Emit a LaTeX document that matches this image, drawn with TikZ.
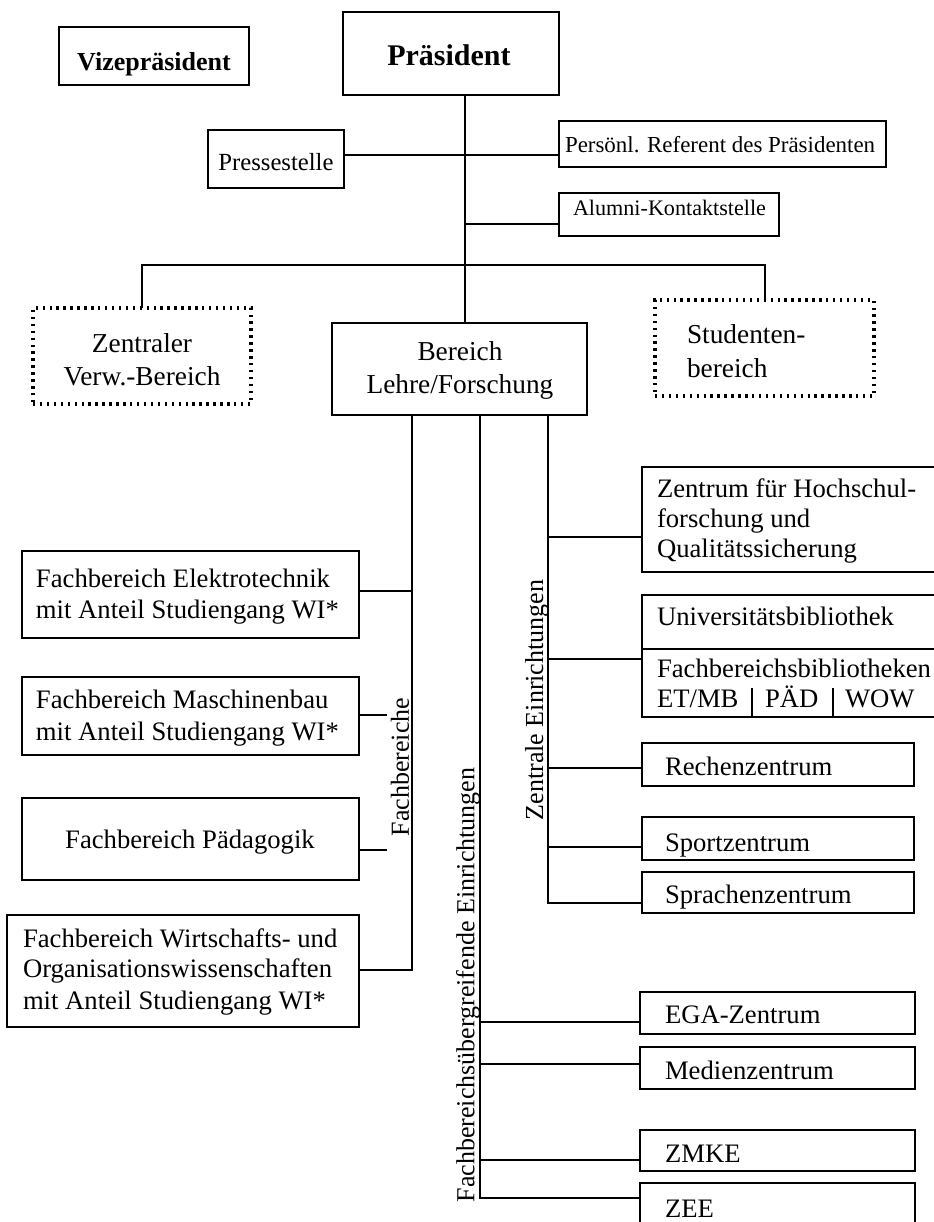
\documentclass[tikz,border=0pt]{standalone}
\usepackage{fontspec}
\setmainfont{Liberation Serif}
\usetikzlibrary{fit}
\begin{document}
\begin{tikzpicture}[x=0.75pt,y=-0.75pt,
  every node/.style={inner sep=0pt, outer sep=0pt},
  box/.style={draw, line width=1.2pt, inner sep=0pt, outer sep=0pt},
  dbox/.style={draw, line width=2.3pt, dash pattern=on 1.8pt off 3.4pt, inner sep=0pt, outer sep=0pt},
  ln/.style={line width=1.2pt},
  tx/.style={font=\fontsize{20}{24}\selectfont, anchor=base west},
  txc/.style={font=\fontsize{20.5}{24}\selectfont, anchor=base},
  vl/.style={font=\fontsize{19.5}{24}\selectfont, rotate=90, anchor=center},
]
\useasboundingbox (0,0) rectangle (934,1222);
\clip (0,0) rectangle (934,1222);

% ---------- top level ----------
\node[box, fit={(59,27) (249,85)}] (vize) {};
\node[font=\bfseries\fontsize{19.5}{24}\selectfont, anchor=base] (tvize) at (154,70) {Vizepräsident};
\node[box, fit={(343,12) (559,95)}] (praes) {};
\node[font=\bfseries\fontsize{22.5}{26}\selectfont, anchor=base] (tpraes) at (449,65) {Präsident};

\node[box, fit={(208,130) (344,188)}] (presse) {};
\node[font=\fontsize{18.5}{22}\selectfont, anchor=base] (tpresse) at (276,170) {Pressestelle};
\node[box, fit={(559,121) (886,167)}] (pers) {};
\node[font=\fontsize{17.2}{20}\selectfont, anchor=base west] (tpers) at (565,152) {Persönl. Referent des Präsidenten};
\node[box, fit={(559,193) (779,236)}] (alumni) {};
\node[font=\fontsize{16.6}{20}\selectfont, anchor=base west] (talumni) at (573,215) {Alumni-Kontaktstelle};

% ---------- second level ----------
\node[dbox, fit={(33,308) (251,404)}] (zentral) {};
\node[txc] (tz1) at (142,352) {Zentraler};
\node[txc] (tz2) at (142,385) {Verw.-Bereich};
\node[box, fit={(332,323) (587,415)}] (bereich) {};
\node[txc] (tb1) at (460,360) {Bereich};
\node[txc] (tb2) at (460,393) {Lehre/Forschung};
\node[dbox, fit={(655,300) (874,396)}] (stud) {};
\node[font=\fontsize{20.5}{24}\selectfont, anchor=base west] (ts1) at (687,343) {Studenten-};
\node[font=\fontsize{20.5}{24}\selectfont, anchor=base west] (ts2) at (687,377) {bereich};

% ---------- Fachbereiche ----------
\node[box, fit={(22,551) (359,638)}] (elek) {};
\node[tx] (te1) at (36,587) {Fachbereich Elektrotechnik};
\node[tx] (te2) at (36,618) {mit Anteil Studiengang WI*};
\node[box, fit={(22,677) (359,755)}] (masch) {};
\node[tx] (tm1) at (36,708) {Fachbereich Maschinenbau};
\node[tx] (tm2) at (36,740) {mit Anteil Studiengang WI*};
\node[box, fit={(22,798) (359,880)}] (paed) {};
\node[font=\fontsize{20}{24}\selectfont, anchor=base] (tp) at (190,848) {Fachbereich Pädagogik};
\node[box, fit={(7,915) (359,1027)}] (wirt) {};
\node[tx] (tw1) at (23,947) {Fachbereich Wirtschafts- und};
\node[tx] (tw2) at (23,977) {Organisationswissenschaften};
\node[tx] (tw3) at (23,1009) {mit Anteil Studiengang WI*};
\node[vl] (lfb) at (400,767) {Fachbereiche};

% ---------- Zentrale Einrichtungen ----------
\node[box, fit={(642,467) (950,572)}] (zhq) {};
\node[tx] (tq1) at (657,497) {Zentrum für Hochschul-};
\node[tx] (tq2) at (657,527) {forschung und};
\node[tx] (tq3) at (657,557) {Qualitätssicherung};
\node[box, fit={(642,595) (950,717)}] (bib) {};
\coordinate (bibmidL) at (642,649);
\coordinate (bibmidR) at (950,649);
\node[tx] (tu1) at (657,625) {Universitätsbibliothek};
\node[tx] (tu2) at (657,677) {Fachbereichsbibliotheken};
\node[tx] (tu3) at (657,707) {ET/MB};
\node[tx] (tu4) at (765,707) {PÄD};
\node[tx] (tu5) at (845,707) {WOW};
\coordinate (bar1) at (752,688);
\coordinate (bar2) at (833,688);
\node[box, fit={(642,743) (914,786)}] (rech) {};
\node[tx] (tr) at (665,775) {Rechenzentrum};
\node[box, fit={(642,817) (914,860)}] (sport) {};
\node[tx] (tsp) at (665,851) {Sportzentrum};
\node[box, fit={(642,872) (914,913)}] (sprach) {};
\node[tx] (tsr) at (665,903) {Sprachenzentrum};
\node[vl] (lze) at (537,700) {Zentrale Einrichtungen};

% ---------- Fachbereichsuebergreifende Einrichtungen ----------
\node[box, fit={(640,992) (915,1034)}] (ega) {};
\node[tx] (tega) at (665,1023) {EGA-Zentrum};
\node[box, fit={(640,1047) (915,1089)}] (medien) {};
\node[tx] (tmed) at (665,1079) {Medienzentrum};
\node[box, fit={(640,1130) (915,1171)}] (zmke) {};
\node[tx] (tzmke) at (665,1162) {ZMKE};
\node[box, fit={(640,1183) (915,1245)}] (zee) {};
\node[tx] (tzee) at (665,1217) {ZEE};
\node[vl] (lfu) at (468,985) {Fachbereichsübergreifende Einrichtungen};

% ---------- junction coordinates ----------
\coordinate (jP) at (465,155);
\coordinate (jA) at (465,224);
\coordinate (jBar) at (465,265);
\coordinate (barL) at (142,265);
\coordinate (barR) at (765,265);
\coordinate (fE) at (412,591);
\coordinate (sM) at (387,715);
\coordinate (sP) at (387,850);
\coordinate (fW) at (412,970);
\coordinate (zQ) at (548,537);
\coordinate (zU) at (548,659);
\coordinate (zR) at (548,768);
\coordinate (zS) at (548,847);
\coordinate (zL) at (548,903);
\coordinate (uE) at (480,1022);
\coordinate (uM) at (480,1064);
\coordinate (uZ) at (480,1160);
\coordinate (uE2) at (480,1198);

% ---------- connectors ----------
\draw[ln] (praes.south -| jP) -- (bereich.north -| jP);
\draw[ln] (presse.east |- jP) -- (pers.west |- jP);
\draw[ln] (jA) -- (alumni.west |- jA);
\draw[ln] (zentral.north -| barL) -- (barL) -- (barR) -- (stud.north -| barR);

\draw[ln] (bereich.south -| fW) -- (fW) -- (wirt.east |- fW);
\draw[ln] (elek.east |- fE) -- (fE);
\draw[ln] (masch.east |- sM) -- (sM);
\draw[ln] (paed.east |- sP) -- (sP);

\draw[ln] (bereich.south -| zL) -- (zL) -- (sprach.west |- zL);
\draw[ln] (zQ) -- (zhq.west |- zQ);
\draw[ln] (zU) -- (bib.west |- zU);
\draw[ln] (zR) -- (rech.west |- zR);
\draw[ln] (zS) -- (sport.west |- zS);
\draw[ln] (bibmidL) -- (bibmidR);
\draw[ln] (bar1) -- (bib.south -| bar1);
\draw[ln] (bar2) -- (bib.south -| bar2);

\draw[ln] (bereich.south -| uE2) -- (uE2) -- (zee.west |- uE2);
\draw[ln] (uE) -- (ega.west |- uE);
\draw[ln] (uM) -- (medien.west |- uM);
\draw[ln] (uZ) -- (zmke.west |- uZ);
\end{tikzpicture}
\end{document}
